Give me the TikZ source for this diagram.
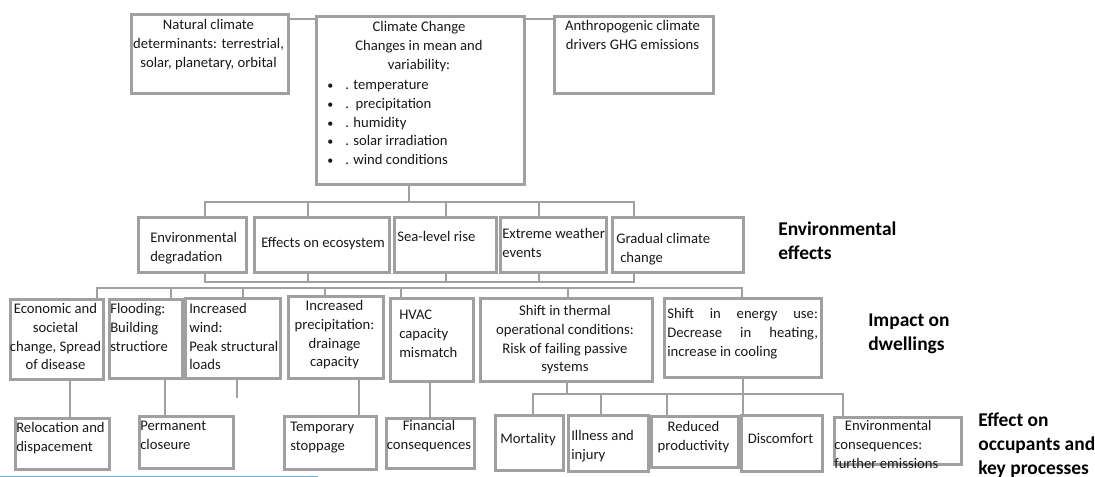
\documentclass[tikz,border=0pt]{standalone}
\usepackage{fontspec}
\setmainfont{Carlito}
\definecolor{boxgray}{RGB}{160,160,160}
\definecolor{inkgray}{RGB}{25,25,25}
\definecolor{rulecyan}{RGB}{91,180,229}

\begin{document}
\begin{tikzpicture}[x=0.75pt, y=-0.75pt,
  box/.style={draw=boxgray, line width=1.95pt, inner sep=0pt, anchor=north west},
  sz/.style 2 args={minimum width=#1*0.75pt, minimum height=#2*0.75pt},
  txt/.style={inner sep=0pt, text=inkgray, font=\fontsize{11}{14.1}\selectfont, execute at begin node=\strut},
  ctr/.style={txt, align=center, anchor=north},
  lft/.style={txt, align=left, anchor=north west},
  lbl/.style={inner sep=0pt, anchor=north west, align=left, text=black,
    font=\fontsize{14.6}{18}\selectfont\bfseries, execute at begin node=\strut},
  conn/.style={draw=boxgray, line width=1.95pt, line cap=rect}]
\useasboundingbox (0,0) rectangle (1095,477);
\clip (0,0) rectangle (1095,477);

% climate change and its drivers
\node[box, sz={157}{79}] (nat) at (130,13) {};
\node[box, sz={208}{168}] (cc) at (315,15) {};
\node[box, sz={159}{77}] (ant) at (553,15) {};
\node[ctr] (nat-t) at (208.5,19) {Natural climate\\determinants: terrestrial,\\solar, planetary, orbital};
\node[ctr] (cc-t) at (419,21) {Climate Change\\Changes in mean and\\variability:};
\node[lft] (cc-l) at (327,80) {\makebox[13.5pt][l]{\small\textbullet}. temperature\\
  \makebox[13.5pt][l]{\small\textbullet}.\ \ precipitation\\
  \makebox[13.5pt][l]{\small\textbullet}. humidity\\
  \makebox[13.5pt][l]{\small\textbullet}. solar irradiation\\
  \makebox[13.5pt][l]{\small\textbullet}. wind conditions};
\node[ctr] (ant-t) at (632.5,20) {Anthropogenic climate\\drivers GHG emissions};

% environmental effects
\node[box, sz={108}{55}] (env) at (137,216) {};
\node[box, sz={135}{55}] (eco) at (253,216) {};
\node[box, sz={102}{55}] (sea) at (393,216) {};
\node[box, sz={106}{55}] (ext) at (499,216) {};
\node[box, sz={131}{55}] (grad) at (611,216) {};
\node[lft] (env-t) at (150,232) {Environmental\\degradation};
\node[lft] (eco-t) at (261,234) {Effects on ecosystem};
\node[lft] (sea-t) at (397,228) {Sea-level rise};
\node[lft] (ext-t) at (502,228) {Extreme weather\\events};
\node[lft] (grad-t) at (616,233) {Gradual climate\\\hspace*{3pt}change};

% impact on dwellings
\node[box, sz={93}{80}] (econ) at (9,298) {};
\node[box, sz={73}{79}] (flood) at (108,298) {};
\node[box, sz={95}{80}] (wind) at (184,297) {};
\node[box, sz={95}{82}] (precip) at (287,295) {};
\node[box, sz={83}{83}] (hvac) at (389,297) {};
\node[box, sz={172}{83}] (therm) at (479,297) {};
\node[box, sz={157}{79}] (energy) at (663,297) {};
\node[ctr] (econ-t) at (55.5,303) {Economic and\\societal\\change, Spread\\of disease};
\node[lft] (flood-t) at (110,303) {Flooding:\\Building\\structiore};
\node[lft] (wind-t) at (189,303) {Increased\\wind:\\Peak structural\\loads};
\node[ctr] (precip-t) at (334.5,300) {Increased\\precipitation:\\drainage\\capacity};
\node[lft] (hvac-t) at (399,310) {HVAC\\capacity\\mismatch};
\node[ctr] (therm-t) at (565,305) {Shift in thermal\\operational conditions:\\Risk of failing passive\\systems};
\node[lft] (energy-t) at (667,308) {\makebox[113pt][s]{Shift in energy use:}\\
  \makebox[113pt][s]{Decrease in heating,}\\increase in cooling};

% effect on occupants
\node[box, sz={94}{51}] (reloc) at (14,417) {};
\node[box, sz={94}{52}] (perm) at (138,415) {};
\node[box, sz={92}{53}] (temp) at (283,415) {};
\node[box, sz={88}{50}] (fin) at (385,417) {};
\node[box, sz={68}{55}] (mort) at (494,414) {};
\node[box, sz={80}{56}] (ill) at (567,414) {};
\node[box, sz={87}{51}] (red) at (650,415) {};
\node[box, sz={81}{56}] (disc) at (740,414) {};
\node[box, sz={127}{47}] (envc) at (833,416) {};
\node[lft] (reloc-t) at (16,422) {Relocation and\\dispacement};
\node[lft] (perm-t) at (140,421) {Permanent\\closeure};
\node[lft] (temp-t) at (290,422) {Temporary\\stoppage};
\node[ctr] (fin-t) at (429,420) {Financial\\consequences};
\node[ctr] (mort-t) at (528,430) {Mortality};
\node[lft] (ill-t) at (571,430) {Illness and\\injury};
\node[ctr] (red-t) at (693.5,421) {Reduced\\productivity};
\node[ctr] (disc-t) at (780.5,430) {Discomfort};
\node[lft] (envc-t) at (834,420) {\hspace*{8pt}Environmental\\consequences:\\further emissions};

% level labels
\node[lbl] (lab-env) at (778,222) {Environmental\\effects};
\node[lbl] (lab-dwell) at (868,314) {Impact on\\dwellings};
\node[lbl] (lab-occ) at (978,413) {Effect on\\occupants and\\key processes};

% links between the boxes
\draw[conn] (nat.east |- 0,19) -- (cc.west |- 0,19);
\draw[conn] (cc.east |- 0,19) -- (ant.west |- 0,19);
\coordinate (b1) at (409,202);
\draw[conn] (cc.south -| b1) -- (b1);
\draw[conn] (205,0 |- b1) -- (634,0 |- b1);
\foreach \n/\x in {env/205,eco/308,sea/446,ext/539,grad/634}
  \draw[conn] (\x,0 |- b1) -- (\n.north -| \x,0);
\coordinate (b2) at (0,282);
\foreach \n/\x in {env/205,eco/308,sea/446,ext/539,grad/634}
  \draw[conn] (\n.south -| \x,0) -- (\x,0 |- b2);
\draw[conn] (205,0 |- b2) -- (634,0 |- b2);
\coordinate (b3) at (0,288);
\draw[conn] (97,0 |- b3) -- (742,0 |- b3);
\foreach \n/\x in {econ/97,flood/171,wind/243,precip/325,hvac/401,therm/568,energy/742}
  \draw[conn] (\x,0 |- b3) -- (\n.north -| \x,0);
\foreach \a/\b/\x in {econ/reloc/70,flood/perm/165,precip/temp/359,hvac/fin/430}
  \draw[conn] (\a.south -| \x,0) -- (\b.north -| \x,0);
\coordinate (stub) at (237,397);
\draw[conn] (wind.south -| stub) -- (stub);
\coordinate (b4) at (0,394);
\draw[conn] (therm.south -| 567,0) -- (567,0 |- b4);
\draw[conn] (energy.south -| 743,0) -- (743,0 |- b4);
\draw[conn] (533,0 |- b4) -- (843,0 |- b4);
\foreach \n/\x in {mort/533,ill/601,red/667,disc/743,envc/843}
  \draw[conn] (\x,0 |- b4) -- (\n.north -| \x,0);

\draw[rulecyan, line width=0.9pt] (0,476.3) -- (318,476.3);
\end{tikzpicture}
\end{document}
